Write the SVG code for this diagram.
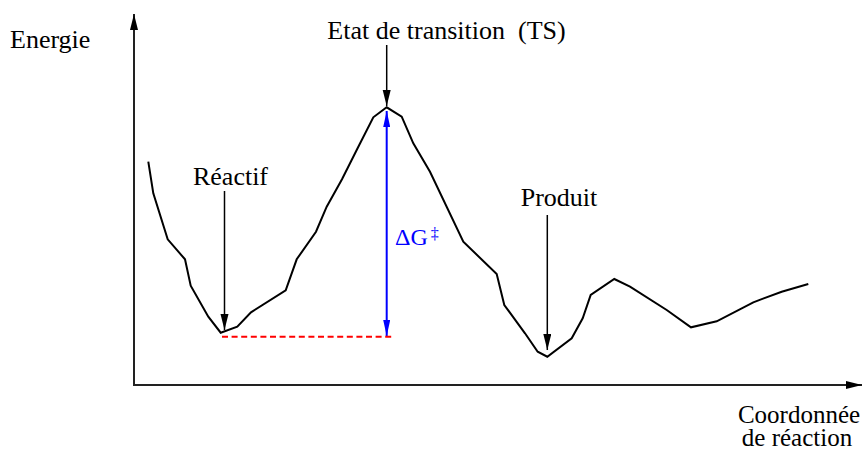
<svg xmlns="http://www.w3.org/2000/svg" width="865" height="451" viewBox="0 0 865 451">
<style>
text{font-family:'Liberation Serif','Times New Roman',serif;font-size:26px;fill:#000}
.xl{font-size:25px}
.ax{stroke:#222;stroke-width:2;fill:none}
.curve{stroke:#000;stroke-width:2;fill:none;stroke-linejoin:miter}
.ptr{stroke:#000;stroke-width:1.5;fill:none}
.dg{stroke:#0000ff;stroke-width:2;fill:none}
.base{stroke:#ff0000;stroke-width:2;stroke-dasharray:6,3.6;fill:none}
</style>
<defs>
<marker id="ahk" markerUnits="userSpaceOnUse" markerWidth="18" markerHeight="10" refX="16" refY="4" orient="auto"><path d="M0,0 L16,4 L0,8 Z" fill="#000"/></marker>
<marker id="ahb" markerUnits="userSpaceOnUse" markerWidth="18" markerHeight="10" refX="16" refY="3.5" orient="auto"><path d="M0,0 L16,3.5 L0,7 Z" fill="#0000ff"/></marker>
<marker id="ahbs" markerUnits="userSpaceOnUse" markerWidth="18" markerHeight="10" refX="0" refY="3.5" orient="auto"><path d="M16,0 L0,3.5 L16,7 Z" fill="#0000ff"/></marker>
</defs>
<g id="axes">
<line class="ax" x1="134" y1="386" x2="134" y2="14" marker-end="url(#ahk)"/>
<line class="ax" x1="133" y1="385" x2="862" y2="385" marker-end="url(#ahk)"/>
</g>
<g id="curve">
<polyline class="curve" points="148.3,161.7 153.3,193.3 167.7,239.3 185,259.3 190.7,285.7 208.3,316.7 220.7,332.7 237.3,326.7 251,312.3 285.7,290.3 296.7,259.3 316,231.7 326.7,206.7 342,179.3 356.7,150 373.3,117.3 386.7,107.3 401.7,116.7 413.3,143.3 430,171.7 463.3,241.7 496.7,274 504.3,305 525,333.3 537.7,351.7 547.3,356.7 571.7,338.3 582.7,318.3 590.7,295 614.3,279 630,286.7 666.7,310 691,327.3 716.7,321.3 753.3,302.3 781.7,291.7 808.3,284"/>
</g>
<g id="node-energie"><text x="10" y="48">Energie</text></g>
<g id="node-ts"><text x="446.5" y="39" text-anchor="middle" xml:space="preserve">Etat de transition  (TS)</text></g>
<g id="node-reactif"><text x="230.5" y="185" text-anchor="middle">Réactif</text></g>
<g id="node-produit"><text x="559" y="206" text-anchor="middle">Produit</text></g>
<g id="node-dg"><text x="395" y="245" style="fill:#0000ff;font-size:24px">ΔG<tspan font-size="16" dy="-6" dx="3">‡</tspan></text></g>
<g id="node-xlabel">
<text class="xl" x="799" y="423" text-anchor="middle">Coordonnée</text>
<text class="xl" x="797" y="446" text-anchor="middle">de réaction</text>
</g>
<g id="connectors">
<line class="ptr" x1="386.7" y1="45" x2="386.7" y2="106" marker-end="url(#ahk)"/>
<line class="ptr" x1="224.5" y1="191" x2="224.5" y2="330" marker-end="url(#ahk)"/>
<line class="ptr" x1="547.3" y1="215" x2="547.3" y2="350" marker-end="url(#ahk)"/>
<line class="dg" x1="386.7" y1="111" x2="386.7" y2="336" marker-start="url(#ahbs)" marker-end="url(#ahb)"/>
<line class="base" x1="222" y1="336.7" x2="393.5" y2="336.7"/>
</g>
</svg>
